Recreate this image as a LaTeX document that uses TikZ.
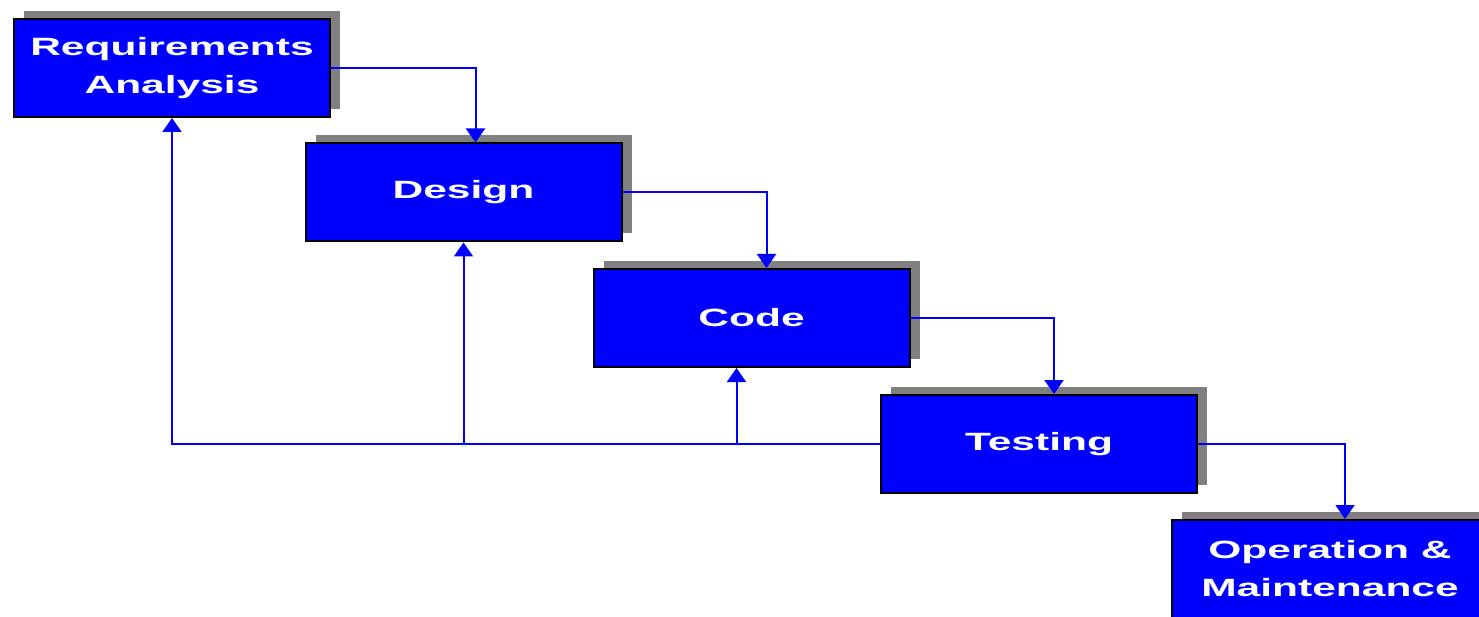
\documentclass[tikz,border=0pt]{standalone}
\usepackage{fontspec}
\setmainfont{Liberation Sans}
\usetikzlibrary{shadows,arrows.meta}
\newcommand{\wide}[1]{\scalebox{1.7}[1]{#1}}
\begin{document}
\begin{tikzpicture}[x=1pt,y=-1pt,
  phase/.style={draw=black,line width=2pt,fill={rgb,255:red,0;green,0;blue,255},
    minimum width=316pt,minimum height=98pt,inner sep=0pt,
    text=white,font=\fontsize{25}{38}\selectfont\bfseries,align=center,
    general shadow={fill={rgb,255:red,128;green,128;blue,128},shadow xshift=10pt,shadow yshift=8pt}},
  flow/.style={draw={rgb,255:red,0;green,0;blue,255},line width=2pt,
    -{Triangle[width=19pt,length=14pt]}}]
\useasboundingbox (0,0) rectangle (1479,617);
\fill[white] (0,0) rectangle (1479,617);
\node[phase] (req) at (172,68) {\wide{Requirements}\\\wide{Analysis}};
\node[phase] (des) at (463.5,192.5) {\wide{Design}};
\node[phase] (cod) at (751.5,318) {\wide{Code}};
\node[phase] (tst) at (1039,444) {\wide{Testing}};
\node[phase] (ops) at (1330,569) {\wide{Operation \&}\\\wide{Maintenance}};
\draw[flow] (req.east) -| ([xshift=12pt]des.north);
\draw[flow] (des.east) -| ([xshift=15pt]cod.north);
\draw[flow] (cod.east) -| ([xshift=15pt]tst.north);
\draw[flow] (tst.east) -| ([xshift=15pt]ops.north);
\draw[flow] (tst.west) -| (req.south);
\draw[flow] (tst.west -| des.south) -- (des.south);
\draw[flow] ([xshift=-15pt]tst.west -| cod.south) -- ([xshift=-15pt]cod.south);
\end{tikzpicture}
\end{document}
